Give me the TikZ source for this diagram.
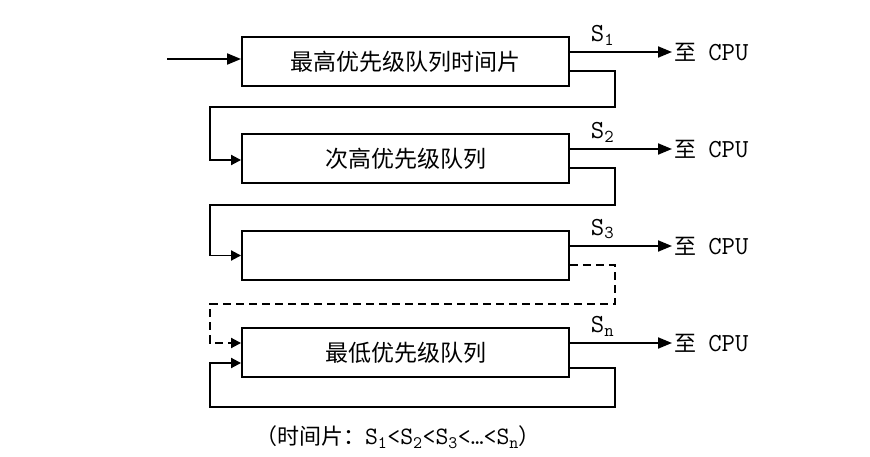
\documentclass[tikz,border=0pt]{standalone}
\usepackage{fontspec}
\newfontfamily\cjk{Noto Sans CJK SC}
\usetikzlibrary{arrows.meta}

\tikzset{
  queue/.style={draw, minimum width=327pt, minimum height=49pt, inner sep=0pt,
    font=\cjk\fontsize{23}{26}\selectfont},
  cpu/.style={anchor=west, inner sep=2pt, font=\ttfamily\fontsize{26}{28}\selectfont},
  slabel/.style={pos=.32, above=4pt, inner sep=2pt, font=\ttfamily\fontsize{26}{28}\selectfont},
  outarrow/.style={-{Triangle[length=14pt,width=11pt]}},
  inarrow/.style={-{Triangle[length=10pt,width=10pt]}},
}
\newcommand{\zh}[1]{{\cjk\fontsize{22}{24}\selectfont #1}}

\begin{document}
\begin{tikzpicture}[x=1pt,y=-1pt,line width=1.9pt]
\useasboundingbox (0,0) rectangle (870,457);

\node[queue] (q1) at (405.5,61.5) {最高优先级队列时间片};
\node[queue] (q2) at (405.5,158.5) {次高优先级队列};
\node[queue] (q3) at (405.5,255.5) {};
\node[queue] (q4) at (405.5,352.5) {最低优先级队列};

\foreach \i/\y in {1/52,2/149,3/246,4/343}
  \node[cpu] (c\i) at (672,\y) {\zh{至}\hspace{-2pt} CPU};
\foreach \i/\s in {1/1,2/2,3/3,4/n}
  \draw[outarrow] (q\i.east |- c\i.west) -- (c\i.west) node[slabel] {S\textsubscript{\s}};

\coordinate (start) at (167,59);
\draw[outarrow] (start) -- (q1.west |- start);

\draw[inarrow] ([yshift=-9.5pt]q1.east) -- ++(45,0) -- ++(0,36)
  -| ([xshift=-31pt,yshift=-1.5pt]q2.west) -- ([yshift=-1.5pt]q2.west);
\draw[inarrow] ([yshift=-9.5pt]q2.east) -- ++(45,0) -- ++(0,37)
  -| ([xshift=-31pt]q3.west) -- (q3.west);
\draw[inarrow, dash pattern=on 8pt off 5pt] ([yshift=-9.5pt]q3.east) -- ++(45,0) -- ++(0,39)
  -| ([xshift=-31pt,yshift=9.5pt]q4.west) -- ([yshift=9.5pt]q4.west);
\draw[inarrow] ([yshift=-15.5pt]q4.east) -- ++(45,0) -- ++(0,39)
  -| ([xshift=-31pt,yshift=-10.5pt]q4.west) -- ([yshift=-10.5pt]q4.west);

\node[font=\ttfamily\fontsize{25}{28}\selectfont] (note) at (398,437)
  {\zh{（时间片：}S\textsubscript{1}<S\textsubscript{2}<S\textsubscript{3}<…<S\textsubscript{n}\zh{）}};
\end{tikzpicture}
\end{document}
